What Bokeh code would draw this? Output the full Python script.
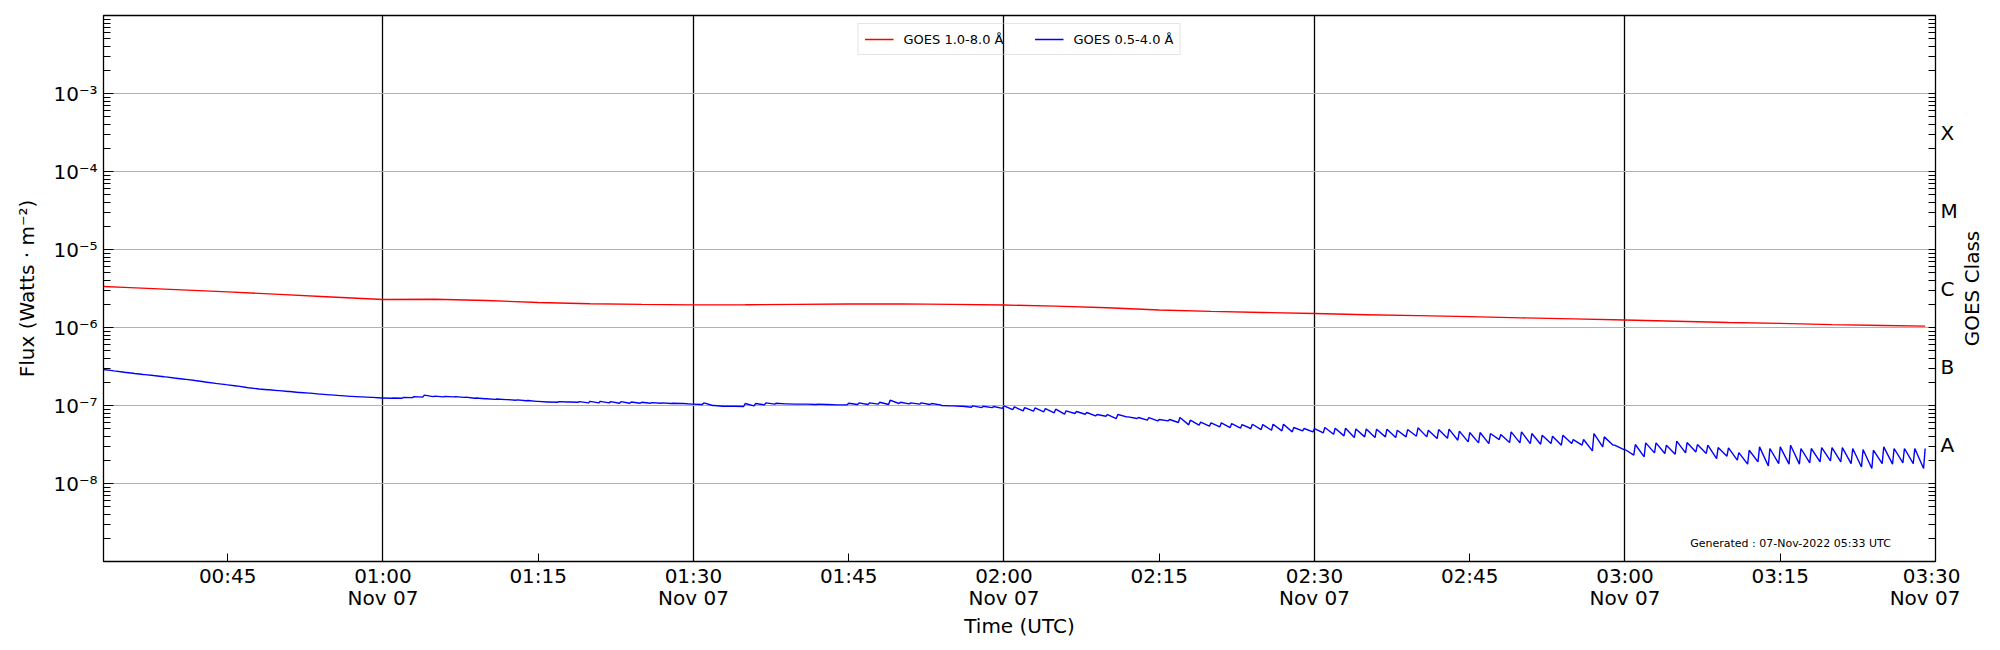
import math
import pandas as pd
from bokeh.plotting import figure
from bokeh.layouts import row
from bokeh.models import (LogAxis, DatetimeAxis, FixedTicker, Legend, LegendItem, Label,
                          Range1d, CustomJSTickFormatter)
from bokeh.embed import file_html
from bokeh.resources import INLINE

DATE = "2022-11-07"

# ---------------- data ----------------
red_times = ["00:33", "00:35", "00:40", "00:45", "00:50", "00:55", "01:00", "01:05",
             "01:10", "01:15", "01:20", "01:25", "01:30", "01:35", "01:40", "01:45",
             "01:50", "01:55", "02:00", "02:05", "02:10", "02:15", "02:20", "02:25",
             "02:30", "02:35", "02:40", "02:45", "02:50", "02:55", "03:00", "03:05",
             "03:10", "03:15", "03:20", "03:25", "03:29"]
# GOES 1.0-8.0 A flux, units of 1e-6 W m^-2
red_flux_e6 = [3.36, 3.27, 3.06, 2.86, 2.66, 2.46, 2.29, 2.30, 2.22, 2.09, 2.02, 1.98,
               1.95, 1.96, 1.98, 2.00, 2.01, 1.98, 1.94, 1.88, 1.79, 1.68, 1.61, 1.56,
               1.51, 1.46, 1.42, 1.38, 1.33, 1.29, 1.25, 1.20, 1.16, 1.13, 1.09, 1.06,
               1.04]

# GOES 0.5-4.0 A flux, one sawtooth per minute starting at 00:33,
# value at the start of each minute (peak) and just before the next (trough),
# units of 1e-8 W m^-2
blue_first_minute = "00:33"
blue_peak_e8 = [
    28.9, 27.8, 26.7, 25.7, 24.9, 24.1, 23.3, 22.4, 21.6, 20.8,
    19.9, 19.1, 18.4, 17.7, 16.9, 16.3, 15.9, 15.5, 15.1, 14.7,
    14.4, 14.0, 13.7, 13.4, 13.1, 12.9, 12.7, 12.5, 12.5, 12.7,
    13.0, 13.6, 13.2, 13.1, 13.0, 12.8, 12.5, 12.2, 12.1, 11.9,
    11.8, 11.6, 11.3, 11.1,
    11.2, 11.1, 11.2, 11.3, 11.3, 11.2, 11.2, 11.1, 11.0, 10.9,
    10.8, 10.7, 10.6, 10.4, 10.8, 10.0, 9.8, 9.8, 10.6, 10.6,
    10.8, 10.7, 10.5, 10.4, 10.4, 10.4, 10.3, 10.2, 10.7, 10.8,
    10.8, 11.0, 11.7, 11.0, 10.8, 10.8, 10.6, 10.0, 9.9, 9.8,
    9.9, 9.8, 9.7,
    9.9, 9.6, 9.4, 9.3, 9.15, 8.97, 8.53, 8.37, 8.13, 7.66,
    7.66, 7.66, 7.15, 7.01, 7.01, 6.61, 6.61, 7.01, 6.48, 6.11,
    5.99, 5.99, 5.87, 5.70, 5.75, 5.70, 5.75, 5.75, 5.22, 5.07,
    5.07, 5.22, 5.12, 5.12, 5.01, 5.01, 4.97, 4.97, 4.82, 4.92,
    5.17, 4.82, 4.92,
    4.97, 4.69, 4.50, 4.50, 4.37, 4.25, 4.59, 4.59, 4.37, 4.16,
    4.04, 4.16, 3.66, 3.66, 4.37, 3.96, 3.10, 2.73, 3.16, 3.32,
    3.32, 3.10, 3.49, 3.35, 3.16, 3.10, 2.89, 2.86, 2.49, 2.67,
    2.95, 2.81, 2.95, 3.10, 2.81, 2.81, 2.89, 2.89, 2.89, 2.81,
    2.73, 2.67, 2.95, 2.81, 2.81, 2.81, 2.81,
]
blue_trough_e8 = [
    28.0, 26.9, 25.9, 25.0, 24.2, 23.4, 22.5, 21.7, 20.9, 20.0,
    19.2, 18.5, 17.8, 17.0, 16.4, 15.9, 15.5, 15.1, 14.7, 14.4,
    14.0, 13.7, 13.4, 13.1, 12.9, 12.7, 12.5, 12.4, 12.4, 12.6,
    12.8, 13.0, 12.9, 12.9, 12.7, 12.4, 12.2, 12.0, 11.9, 11.7,
    11.5, 11.3, 11.1, 11.0,
    11.1, 11.0, 10.8, 10.8, 10.8, 10.7, 10.7, 10.7, 10.7, 10.7,
    10.6, 10.6, 10.4, 10.3, 10.0, 9.8, 9.8, 9.7, 9.9, 10.2,
    10.4, 10.5, 10.4, 10.4, 10.3, 10.3, 10.2, 10.2, 10.3, 10.3,
    10.4, 10.3, 10.6, 10.5, 10.4, 10.3, 10.2, 9.9, 9.8, 9.5,
    9.4, 9.4, 9.2,
    8.87, 8.53, 8.45, 8.30, 8.05, 7.73, 7.89, 7.73, 7.36, 7.29,
    6.81, 7.15, 6.81, 6.48, 6.35, 6.35, 6.05, 5.65, 5.59, 5.43,
    5.32, 5.22, 5.12, 5.07, 4.92, 4.82, 4.73, 4.59, 4.73, 4.59,
    4.46, 4.28, 4.08, 3.88, 3.96, 3.88, 3.96, 3.88, 3.96, 4.04,
    3.96, 3.77, 3.80,
    3.59, 3.42, 3.32, 3.25, 3.66, 3.35, 3.32, 3.25, 3.19, 3.25,
    3.10, 3.25, 3.10, 2.62, 2.95, 3.10, 2.73, 2.31, 2.20, 2.47,
    2.42, 2.37, 2.47, 2.54, 2.42, 2.09, 2.24, 1.99, 1.77, 1.89,
    1.68, 1.80, 1.77, 1.77, 1.84, 1.89, 1.95, 1.89, 1.80, 1.63,
    1.56, 1.80, 1.77, 1.84, 1.80, 1.56, None,
]

x_start, x_end = "00:33", "03:30"
x_tick_times = ["00:45", "01:00", "01:15", "01:30", "01:45", "02:00", "02:15",
                "02:30", "02:45", "03:00", "03:15", "03:30"]
x_tick_labels = ["00:45", "01:00", "01:15", "01:30", "01:45", "02:00", "02:15",
                 "02:30", "02:45", "03:00", "03:15", "03:30"]
date_label_times = ["01:00", "01:30", "02:00", "02:30", "03:00", "03:30"]
date_label = "Nov 07"
day_line_times = ["01:00", "01:30", "02:00", "02:30", "03:00"]
y_ticks = [1e-8, 1e-7, 1e-6, 1e-5, 1e-4, 1e-3]
y_tick_labels = ["10⁻⁸", "10⁻⁷", "10⁻⁶", "10⁻⁵", "10⁻⁴", "10⁻³"]
goes_classes = ["A", "B", "C", "M", "X"]
goes_class_flux = [10 ** -7.5, 10 ** -6.5, 10 ** -5.5, 10 ** -4.5, 10 ** -3.5]
series_labels = ["GOES 1.0-8.0 Å", "GOES 0.5-4.0 Å"]
generated_text = "Generated : 07-Nov-2022 05:33 UTC"

# ---------------- build ----------------
def ts(hhmm):
    return pd.Timestamp(f"{DATE} {hhmm}")

def ms(hhmm):
    return ts(hhmm).value / 1e6

red_x = [ts(t) for t in red_times]
red_y = [v * 1e-6 for v in red_flux_e6]

t0 = ts(blue_first_minute)
blue_x, blue_y = [], []
for i, (pk, tr) in enumerate(zip(blue_peak_e8, blue_trough_e8)):
    start = t0 + pd.Timedelta(minutes=i)
    blue_x.append(start)
    blue_y.append(pk * 1e-8)
    if tr is not None:
        blue_x.append(start + pd.Timedelta(seconds=51))
        blue_y.append(tr * 1e-8)

FONT = "DejaVu Sans"
W, H = 2000, 650
W_MAIN = 1960                          # main figure; the rest holds the right title
FL, FR, FT, FB = 103, 1937, 15, 561   # frame edges on the page

p = figure(width=W_MAIN, height=H, x_axis_type="datetime", y_axis_type="log",
           x_range=Range1d(ts(x_start), ts(x_end)), y_range=Range1d(1e-9, 1e-2),
           output_backend="svg", toolbar_location=None,
           min_border_left=FL, min_border_right=W_MAIN - FR, min_border_top=FT,
           min_border_bottom=H - FB)
p.background_fill_color = "white"
p.border_fill_color = "white"
p.outline_line_color = "black"
p.outline_line_width = 1.3

red_r = p.line(red_x, red_y, line_color="#ff0000", line_width=1.4)
blue_r = p.line(blue_x, blue_y, line_color="#0000ff", line_width=1.4)

fmt_code = """
for (let i = 0; i < tvals.length; i++) {
  if (Math.abs(tick - tvals[i]) <= 1e-9 * Math.abs(tvals[i])) { return tlabels[i]; }
}
return "";
"""

# x axis: times
xax = p.xaxis[0]
xt = [ms(t) for t in x_tick_times]
xax.ticker = FixedTicker(ticks=xt)
xax.formatter = CustomJSTickFormatter(args=dict(tvals=xt, tlabels=x_tick_labels), code=fmt_code)
xax.major_tick_in = 8
xax.major_tick_out = 0
xax.minor_tick_in = 0
xax.minor_tick_out = 0
xax.major_label_standoff = 2
xax.major_label_text_font = FONT
xax.major_label_text_font_size = "20px"
xax.major_label_text_color = "black"
xax.axis_line_color = "black"
xax.major_tick_line_color = "black"

# x axis: date line + axis title
dt = [ms(t) for t in date_label_times]
dax = DatetimeAxis(ticker=FixedTicker(ticks=dt),
                   formatter=CustomJSTickFormatter(args=dict(tvals=dt, tlabels=[date_label] * len(dt)),
                                                   code=fmt_code),
                   major_tick_in=0, major_tick_out=0, minor_tick_in=0, minor_tick_out=0,
                   axis_line_color=None, major_label_standoff=-5,
                   major_label_text_font=FONT, major_label_text_font_size="20px",
                   major_label_text_color="black",
                   axis_label="Time (UTC)", axis_label_text_font=FONT,
                   axis_label_text_font_size="20px", axis_label_text_font_style="normal",
                   axis_label_text_color="black", axis_label_standoff=1)
p.add_layout(dax, "below")

# minor log ticks
minor = [k * 10.0 ** e for e in range(-9, -2) for k in range(2, 10)]

# left y axis
yax = p.yaxis[0]
yax.ticker = FixedTicker(ticks=y_ticks, minor_ticks=minor)
yax.formatter = CustomJSTickFormatter(args=dict(tvals=y_ticks, tlabels=y_tick_labels), code=fmt_code)
yax.major_tick_in = 10
yax.major_tick_out = 0
yax.minor_tick_in = 7
yax.minor_tick_out = 0
yax.major_label_standoff = 6
yax.major_label_text_font = FONT
yax.major_label_text_font_size = "20px"
yax.major_label_text_color = "black"
yax.axis_label = "Flux (Watts · m⁻²)"
yax.axis_label_text_font = FONT
yax.axis_label_text_font_size = "20px"
yax.axis_label_text_font_style = "normal"
yax.axis_label_text_color = "black"
yax.axis_label_standoff = 11
yax.axis_line_color = "black"

# right GOES class axis
rax = LogAxis(ticker=FixedTicker(ticks=goes_class_flux, minor_ticks=minor + y_ticks),
              formatter=CustomJSTickFormatter(args=dict(tvals=goes_class_flux, tlabels=goes_classes),
                                              code=fmt_code),
              major_tick_in=0, major_tick_out=0, minor_tick_in=7, minor_tick_out=0,
              major_label_standoff=5, major_label_text_font=FONT,
              major_label_text_font_size="20px", major_label_text_color="black",
              axis_line_color="black")
p.add_layout(rax, "right")

# grids
p.xgrid.ticker = FixedTicker(ticks=[ms(t) for t in day_line_times])
p.xgrid.grid_line_color = "black"
p.xgrid.grid_line_width = 1.3
p.ygrid.ticker = FixedTicker(ticks=y_ticks)
p.ygrid.grid_line_color = "#b0b0b0"
p.ygrid.grid_line_width = 1.2

# legend
legend = Legend(items=[LegendItem(label=series_labels[0], renderers=[red_r]),
                       LegendItem(label=series_labels[1], renderers=[blue_r])],
                location="top_center", orientation="horizontal",
                label_text_font=FONT, label_text_font_size="13px",
                label_text_color="black",
                glyph_width=29, glyph_height=18, label_height=18, label_standoff=10,
                spacing=31, padding=6, margin=8,
                border_line_color="#cccccc", border_line_width=1.2,
                background_fill_alpha=0.0)
p.add_layout(legend)

p.add_layout(Label(x=1687, y=12, x_units="screen", y_units="screen",
                   text=generated_text, text_font=FONT, text_font_size="11px",
                   text_align="center", text_baseline="bottom", text_color="black"))

# narrow strip holding the right-hand title, reading bottom to top
# (its frame is aligned with the main frame by the row layout)
W_SIDE = W - W_MAIN
side = figure(width=W_SIDE, height=H, x_axis_location=None, y_axis_location=None,
              output_backend="svg", toolbar_location=None, min_border=0)
side.outline_line_color = None
side.background_fill_color = "white"
side.border_fill_color = "white"
side.grid.visible = False
side.add_layout(Label(x=11.5, y=(FB - FT) / 2, x_units="screen", y_units="screen",
                      text="GOES Class", angle=math.pi / 2, text_font=FONT,
                      text_font_size="20px", text_align="center", text_baseline="middle",
                      text_color="black"))

layout = row(p, side, spacing=0)
open("out.html", "w").write(file_html(layout, INLINE))
